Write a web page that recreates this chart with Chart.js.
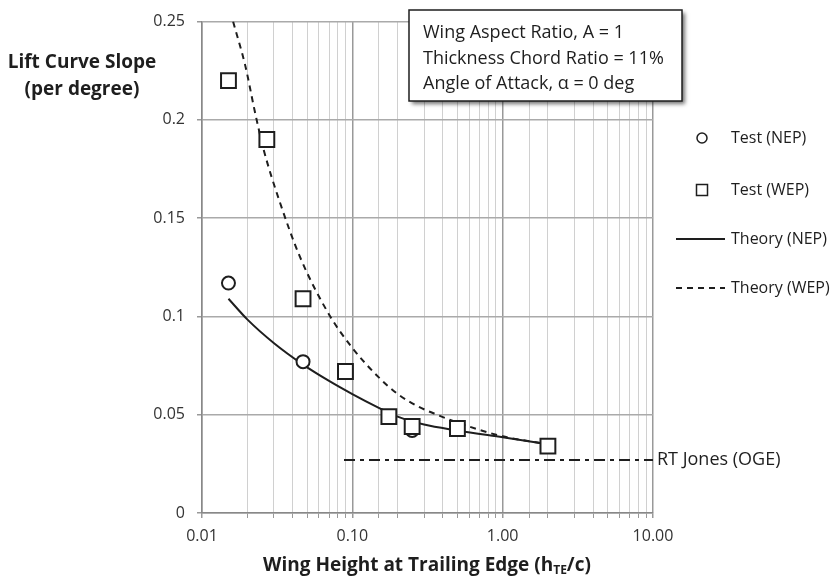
<!DOCTYPE html>
<html>
<head>
<meta charset="utf-8">
<script src="https://cdn.jsdelivr.net/npm/chart.js@4"></script>
<style>
  html, body { margin: 0; padding: 0; background: #fff; }
  #wrap { width: 836px; height: 579px; }
</style>
</head>
<body>
<div id="wrap"><canvas id="liftChart" width="836" height="579"></canvas></div>
<script>
// --- data (h/c vs lift curve slope per degree) ---
const testNepH = [0.015, 0.047, 0.25];
const testNepSlope = [0.117, 0.077, 0.042];
const testWepH = [0.015, 0.027, 0.047, 0.09, 0.175, 0.25, 0.5, 2.0];
const testWepSlope = [0.22, 0.19, 0.109, 0.072, 0.049, 0.044, 0.043, 0.034];
const theoryNepH = [0.015, 0.02, 0.03, 0.047, 0.07, 0.1, 0.15, 0.2, 0.3, 0.5, 1.0, 2.0];
const theoryNepSlope = [0.109, 0.0985, 0.0865, 0.0755, 0.0672, 0.0605, 0.0535, 0.049, 0.045, 0.042, 0.0385, 0.035];
const theoryWepH = [0.0161, 0.0194, 0.0225, 0.0256, 0.033, 0.045, 0.07, 0.1, 0.15, 0.2, 0.277, 0.35, 0.5, 1.0, 2.0];
const theoryWepSlope = [0.25, 0.2276, 0.204, 0.1854, 0.158, 0.13, 0.101, 0.084, 0.069, 0.0606, 0.054, 0.0506, 0.046, 0.039, 0.035];
const rtJonesH = [0.088, 10];
const rtJonesSlope = [0.027, 0.027];

const yTicks = [0, 0.05, 0.1, 0.15, 0.2, 0.25];
const seriesNames = ['Test (NEP)', 'Test (WEP)', 'Theory (NEP)', 'Theory (WEP)', 'RT Jones (OGE)'];
const noteLines = ['Wing Aspect Ratio, A = 1', 'Thickness Chord Ratio = 11%', 'Angle of Attack, \u03b1 = 0 deg'];

const FONT = '"Open Sans", Lato, sans-serif';
const INK = '#1e1e1e';

const toPoints = (xs, ys) => xs.map((x, i) => ({ x: x, y: ys[i] }));
const isDecade = v => Math.abs(Math.log10(v) - Math.round(Math.log10(v))) < 1e-6;

// --- extra drawing: axis titles, note box, legend, OGE label ---
const decorations = {
    id: 'decorations',
    afterDraw(chart) {
        const ctx = chart.ctx;
        const xs = chart.scales.x;
        const ys = chart.scales.y;
        ctx.save();

        // y title
        ctx.fillStyle = INK;
        ctx.font = 'bold 19px ' + FONT;
        ctx.textAlign = 'center';
        ctx.textBaseline = 'middle';
        ctx.fillText('Lift Curve Slope', 82, 63);
        ctx.fillText('(per degree)', 82, 90);

        // x title with subscript
        const mainA = 'Wing Height at Trailing Edge (h';
        const sub = 'TE';
        const mainB = '/c)';
        ctx.font = 'bold 19px ' + FONT;
        const wA = ctx.measureText(mainA).width;
        const wB = ctx.measureText(mainB).width;
        ctx.font = 'bold 12px ' + FONT;
        const wS = ctx.measureText(sub).width;
        let tx = 427 - (wA + wS + wB) / 2;
        const ty = 566;
        ctx.textAlign = 'left';
        ctx.font = 'bold 19px ' + FONT;
        ctx.fillText(mainA, tx, ty);
        tx += wA;
        ctx.font = 'bold 12px ' + FONT;
        ctx.fillText(sub, tx, ty + 5);
        tx += wS;
        ctx.font = 'bold 19px ' + FONT;
        ctx.fillText(mainB, tx, ty);

        // note box with drop shadow
        ctx.save();
        ctx.shadowColor = 'rgba(0,0,0,0.55)';
        ctx.shadowOffsetX = 3;
        ctx.shadowOffsetY = 3;
        ctx.shadowBlur = 4;
        ctx.fillStyle = '#fff';
        ctx.fillRect(409, 10, 273, 91);
        ctx.restore();
        ctx.strokeStyle = INK;
        ctx.lineWidth = 1.5;
        ctx.strokeRect(409, 10, 273, 91);
        ctx.fillStyle = INK;
        ctx.font = '18px ' + FONT;
        noteLines.forEach((line, i) => ctx.fillText(line, 423, 33 + i * 25.5));

        // legend
        const lx = 702, textX = 731;
        const rows = [138, 190, 239, 288];
        ctx.font = '16px ' + FONT;
        ctx.lineWidth = 1.5;
        ctx.strokeStyle = INK;
        ctx.beginPath();
        ctx.arc(lx, rows[0], 5, 0, Math.PI * 2);
        ctx.stroke();
        ctx.strokeRect(lx - 5.5, rows[1] - 5.5, 11, 11);
        ctx.lineWidth = 2;
        ctx.beginPath();
        ctx.moveTo(676, rows[2]);
        ctx.lineTo(725, rows[2]);
        ctx.stroke();
        ctx.setLineDash([6, 5]);
        ctx.beginPath();
        ctx.moveTo(676, rows[3]);
        ctx.lineTo(725, rows[3]);
        ctx.stroke();
        ctx.setLineDash([]);
        for (let i = 0; i < 4; i++) ctx.fillText(seriesNames[i], textX, rows[i]);

        // label at the end of the OGE line
        ctx.font = '18px ' + FONT;
        ctx.fillText(seriesNames[4], xs.getPixelForValue(rtJonesH[1]) + 4, ys.getPixelForValue(rtJonesSlope[1]));
        ctx.restore();
    }
};

const chart = new Chart(document.getElementById('liftChart'), {
    type: 'scatter',
    data: {
        datasets: [
            {
                label: seriesNames[0],
                data: toPoints(testNepH, testNepSlope),
                pointStyle: 'circle',
                pointRadius: 6.5,
                borderColor: INK,
                backgroundColor: '#fff',
                borderWidth: 2,
                order: 1
            },
            {
                label: seriesNames[1],
                data: toPoints(testWepH, testWepSlope),
                pointStyle: 'rect',
                pointRadius: 10.5,
                borderColor: INK,
                backgroundColor: '#fff',
                borderWidth: 2,
                order: 0
            },
            {
                label: seriesNames[2],
                data: toPoints(theoryNepH, theoryNepSlope),
                showLine: true,
                pointRadius: 0,
                borderColor: INK,
                borderWidth: 2,
                cubicInterpolationMode: 'monotone',
                order: 3
            },
            {
                label: seriesNames[3],
                data: toPoints(theoryWepH, theoryWepSlope),
                showLine: true,
                pointRadius: 0,
                borderColor: INK,
                borderWidth: 2,
                borderDash: [6, 5],
                cubicInterpolationMode: 'monotone',
                order: 4
            },
            {
                label: seriesNames[4],
                data: toPoints(rtJonesH, rtJonesSlope),
                showLine: true,
                pointRadius: 0,
                borderColor: INK,
                borderWidth: 2,
                borderDash: [11, 5, 4, 5],
                order: 5
            }
        ]
    },
    options: {
        responsive: false,
        animation: false,
        events: [],
        layout: { padding: { left: 0, right: 183, top: 19, bottom: 0 } },
        plugins: {
            legend: { display: false },
            tooltip: { enabled: false }
        },
        scales: {
            x: {
                type: 'logarithmic',
                min: 0.01,
                max: 10,
                afterFit: s => { s.height = 66; },
                border: { color: '#888', width: 1.5 },
                grid: {
                    color: c => isDecade(c.tick.value) ? '#999' : '#d0d0d0',
                    lineWidth: c => isDecade(c.tick.value) ? 1.5 : 1,
                    tickLength: 5,
                    tickColor: '#999'
                },
                ticks: {
                    autoSkip: false,
                    maxRotation: 0,
                    padding: 9,
                    color: '#333',
                    font: { family: FONT, size: 16 },
                    callback: v => isDecade(v) ? v.toFixed(2) : ''
                }
            },
            y: {
                min: 0,
                max: 0.25,
                afterFit: s => { s.width = 202; },
                afterBuildTicks: s => { s.ticks = yTicks.map(v => ({ value: v })); },
                border: { color: '#888', width: 1.5 },
                grid: {
                    color: '#aaa',
                    lineWidth: 1.5,
                    tickLength: 5,
                    tickColor: '#999'
                },
                ticks: {
                    padding: 12,
                    color: '#333',
                    font: { family: FONT, size: 16 },
                    callback: v => String(+v.toFixed(2))
                }
            }
        }
    },
    plugins: [decorations]
});
</script>
</body>
</html>
